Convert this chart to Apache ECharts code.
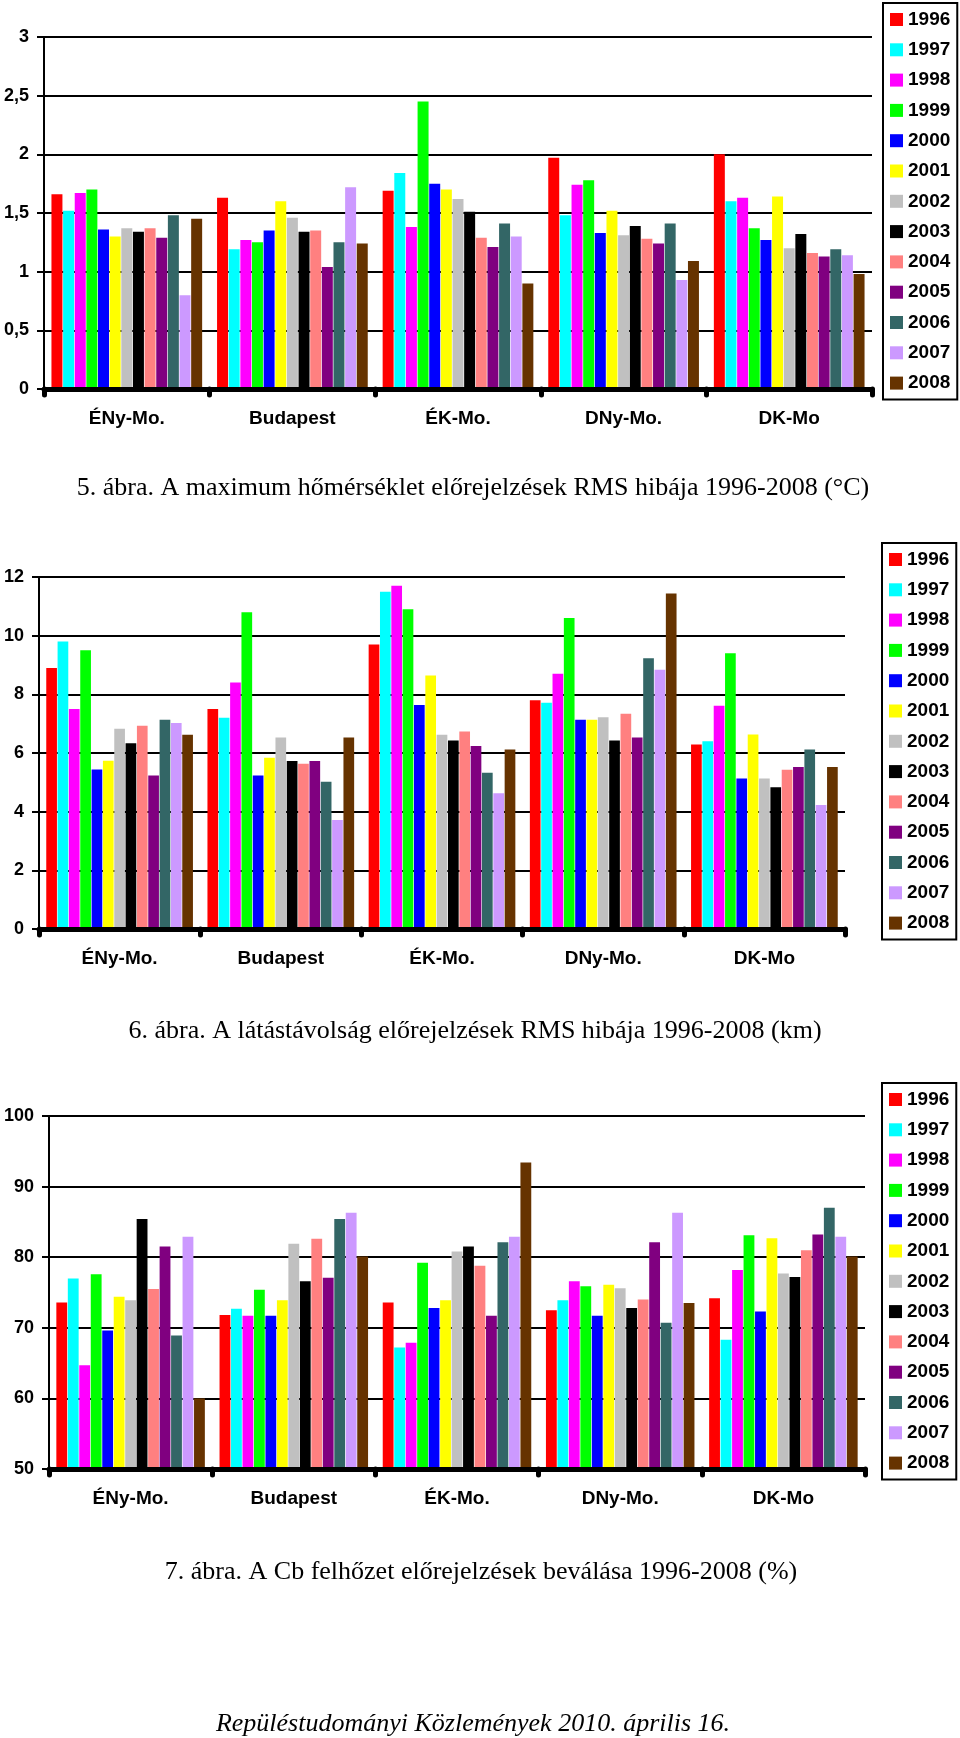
<!DOCTYPE html>
<html>
<head>
<meta charset="utf-8">
<script src="https://cdn.jsdelivr.net/npm/echarts@6/dist/echarts.min.js"></script>
<style>
  html, body { margin: 0; padding: 0; background: #ffffff; }
  #chart { width: 960px; height: 1738px; }
</style>
</head>
<body>
<div id="chart"></div>
<script>
// ---- data ----
const regions = ['ÉNy-Mo.', 'Budapest', 'ÉK-Mo.', 'DNy-Mo.', 'DK-Mo'];
const years = ['1996','1997','1998','1999','2000','2001','2002','2003','2004','2005','2006','2007','2008'];
const yearColors = ['#FF0000','#00FFFF','#FF00FF','#00FF00','#0000FF','#FFFF00','#C0C0C0','#000000','#FF8080','#800080','#336666','#CC99FF','#663300'];

// Fig 5: max temperature RMS error (°C), values per year 1996..2008
const tmaxENy  = [1.66,1.52,1.67,1.70,1.36,1.30,1.37,1.34,1.37,1.29,1.48,0.80,1.45];
const tmaxBud  = [1.63,1.19,1.27,1.25,1.35,1.60,1.46,1.34,1.35,1.04,1.25,1.72,1.24];
const tmaxEK   = [1.69,1.84,1.38,2.45,1.75,1.70,1.62,1.51,1.29,1.21,1.41,1.30,0.90];
const tmaxDNy  = [1.97,1.48,1.74,1.78,1.33,1.52,1.31,1.39,1.28,1.24,1.41,0.93,1.09];
const tmaxDK   = [2.00,1.60,1.63,1.37,1.27,1.64,1.20,1.32,1.16,1.13,1.19,1.14,0.98];

// Fig 6: visibility RMS error (km)
const visENy = [8.90,9.80,7.50,9.50,5.44,5.74,6.83,6.33,6.93,5.23,7.13,7.02,6.62];
const visBud = [7.50,7.20,8.40,10.80,5.23,5.84,6.53,5.73,5.63,5.73,5.02,3.72,6.53];
const visEK  = [9.70,11.50,11.70,10.90,7.64,8.64,6.62,6.43,6.73,6.24,5.33,4.63,6.12];
const visDNy = [7.80,7.71,8.70,10.60,7.13,7.13,7.22,6.43,7.34,6.53,9.23,8.84,11.44];
const visDK  = [6.29,6.40,7.61,9.40,5.13,6.63,5.13,4.83,5.43,5.52,6.12,4.23,5.52];

// Fig 7: Cb cloud forecast success (%)
const cbENy = [73.6,77.0,64.7,77.6,69.6,74.4,73.9,85.4,75.5,81.5,68.9,82.9,60.0];
const cbBud = [71.8,72.7,71.7,75.4,71.7,73.9,81.9,76.6,82.6,77.1,85.4,86.3,80.1];
const cbEK  = [73.6,67.2,67.9,79.2,72.8,73.9,80.8,81.5,78.8,71.7,82.1,82.9,93.4];
const cbDNy = [72.5,73.9,76.6,75.9,71.7,76.1,75.6,72.8,74.0,82.1,70.7,86.3,73.5];
const cbDK  = [74.2,68.3,78.2,83.1,72.3,82.7,77.7,77.2,81.0,83.2,87.0,82.9,80.1];

const tmaxTicks = { min: 0, max: 3, interval: 0.5 };
const visTicks  = { min: 0, max: 12, interval: 2 };
const cbTicks   = { min: 50, max: 100, interval: 10 };

const captions = [
  '5. ábra. A maximum hőmérséklet előrejelzések RMS hibája 1996-2008 (°C)',
  '6. ábra. A látástávolság előrejelzések RMS hibája 1996-2008 (km)',
  '7. ábra. A Cb felhőzet előrejelzések beválása 1996-2008 (%)'
];
const footer = 'Repüléstudományi Közlemények 2010. április 16.';

// ---- build ----
const charts = [
  { rows: [tmaxENy, tmaxBud, tmaxEK, tmaxDNy, tmaxDK], ticks: tmaxTicks,
    grid: { left: 44, top: 37, width: 828, height: 352 }, legend: { left: 883, top: 3 } },
  { rows: [visENy, visBud, visEK, visDNy, visDK], ticks: visTicks,
    grid: { left: 39, top: 577, width: 806, height: 352 }, legend: { left: 882, top: 543 } },
  { rows: [cbENy, cbBud, cbEK, cbDNy, cbDK], ticks: cbTicks,
    grid: { left: 49, top: 1116, width: 816, height: 353 }, legend: { left: 882, top: 1083 } }
];

const sansBold = { fontFamily: '"Liberation Sans", Arial, sans-serif', fontWeight: 'bold', color: '#000' };

const option = {
  animation: false,
  backgroundColor: '#ffffff',
  grid: charts.map(c => Object.assign({ containLabel: false }, c.grid)),
  xAxis: charts.map((c, i) => ({
    type: 'category', gridIndex: i, data: regions, z: 5,
    axisLine: { show: true, onZero: false, lineStyle: { color: '#000', width: 5 } },
    axisTick: { show: true, length: 6, lineStyle: { color: '#000', width: 5, cap: 'round' } },
    axisLabel: Object.assign({ fontSize: 19, margin: 20 }, sansBold),
    splitLine: { show: false }
  })),
  yAxis: charts.map((c, i) => ({
    type: 'value', gridIndex: i, min: c.ticks.min, max: c.ticks.max, interval: c.ticks.interval,
    axisLine: { show: true, lineStyle: { color: '#000', width: 2 } },
    axisTick: { show: true, length: 7, lineStyle: { color: '#000', width: 2 } },
    axisLabel: Object.assign({ fontSize: 18, margin: 15,
      formatter: v => String(v).replace('.', ',') }, sansBold),
    splitLine: { show: true, lineStyle: { color: '#000', width: 2 } }
  })),
  legend: charts.map(c => ({
    orient: 'vertical', left: c.legend.left, top: c.legend.top,
    data: years, icon: 'rect', itemWidth: 13, itemHeight: 13, itemGap: 11.3,
    padding: [7, 7, 7, 7], borderColor: '#000', borderWidth: 2,
    selectedMode: false,
    textStyle: Object.assign({ fontSize: 19 }, sansBold)
  })),
  series: [],
  graphic: []
};

charts.forEach((c, ci) => {
  years.forEach((y, yi) => {
    option.series.push({
      type: 'bar', name: y, xAxisIndex: ci, yAxisIndex: ci,
      data: c.rows.map(row => row[yi]),
      itemStyle: { color: yearColors[yi] },
      barGap: '6%', barCategoryGap: '9%'
    });
  });
});

const capStyle = [
  { text: captions[0], x: 473, y: 488 },
  { text: captions[1], x: 475, y: 1031 },
  { text: captions[2], x: 481, y: 1572 }
];
capStyle.forEach(c => {
  option.graphic.push({
    type: 'text', x: c.x, y: c.y,
    style: { text: c.text, textAlign: 'center', textVerticalAlign: 'middle',
      font: '26px "Liberation Serif", "Times New Roman", serif', fill: '#000' }
  });
});
option.graphic.push({
  type: 'text', x: 473, y: 1724,
  style: { text: footer, textAlign: 'center', textVerticalAlign: 'middle',
    font: 'italic 26px "Liberation Serif", "Times New Roman", serif', fill: '#000' }
});

const chart = echarts.init(document.getElementById('chart'), null, { renderer: 'canvas' });
chart.setOption(option);
</script>
</body>
</html>
